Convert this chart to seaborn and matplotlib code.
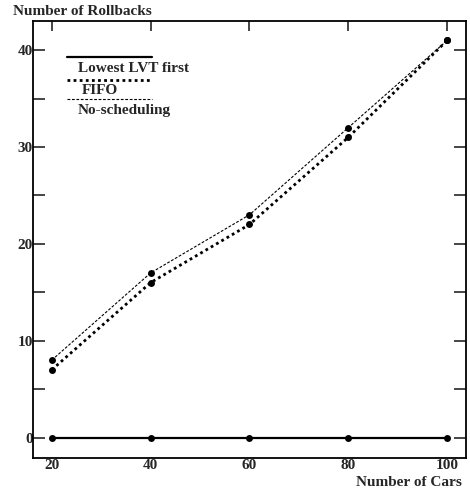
import matplotlib
matplotlib.use("Agg")
import matplotlib.pyplot as plt
import seaborn as sns
import pandas as pd

cars = [20, 40, 60, 80, 100]
lowest_lvt = [0, 0, 0, 0, 0]
fifo = [7, 16, 22, 31, 41]
no_sched = [8, 17, 23, 32, 41]
labels = ["Lowest LVT first", "FIFO", "No-scheduling"]

sns.set_style("white")
plt.rcParams['font.family'] = ['Liberation Serif', 'DejaVu Serif']
plt.rcParams['font.weight'] = 'bold'

df = pd.DataFrame({"cars": cars * 3,
                   "rollbacks": lowest_lvt + fifo + no_sched,
                   "series": [labels[0]] * 5 + [labels[1]] * 5 + [labels[2]] * 5})

fig = plt.figure(figsize=(4.7, 4.88), dpi=100)
ax = fig.add_axes([0.0702, 0.0615, 0.9213, 0.8955])

styles = {
    labels[0]: dict(lw=1.6, ls='-'),
    labels[1]: dict(lw=2.0, ls=(0, (1, 1.2))),
    labels[2]: dict(lw=0.8, ls=(0, (2.5, 1.5))),
}
for name in labels:
    sub = df[df["series"] == name]
    sns.lineplot(data=sub, x="cars", y="rollbacks", ax=ax, color='black',
                 marker='o', markersize=5, markeredgewidth=0, legend=False,
                 linewidth=styles[name]['lw'], linestyle=styles[name]['ls'])

ax.set_xlim(16.2, 103.8)
ax.set_ylim(-2.1, 43)
ax.set_xticks(cars)
ax.set_yticks([0, 10, 20, 30, 40])
ax.set_yticks([5, 15, 25, 35], minor=True)
ax.tick_params(axis='x', direction='in', length=7.2, width=1.2, top=True,
               labelsize=11, pad=1)
ax.tick_params(axis='y', which='both', direction='in', length=8.6, width=1.2,
               left=True, right=True, labelsize=11, pad=0)
for lab in ax.get_xticklabels() + ax.get_yticklabels():
    lab.set_fontweight('bold')
for s in ax.spines.values():
    s.set_linewidth(1.3)
    s.set_color('black')
ax.set_xlabel('')
ax.set_ylabel('')

fig.text(0.028, 0.977, "Number of Rollbacks", fontsize=11, fontweight='bold', va='center', ha='left')
fig.text(0.983, 0.012, "Number of Cars", fontsize=11, fontweight='bold', va='center', ha='right')

# legend drawn line-above-text like the original
leg_line_y = [0.9176, 0.865, 0.8215]
leg_text_y = [0.884, 0.832, 0.787]
leg_text_x = [0.104, 0.113, 0.104]
for name, ly, ty, tx in zip(labels, leg_line_y, leg_text_y, leg_text_x):
    ax.plot([0.0785, 0.275], [ly, ly], transform=ax.transAxes, color='black',
            lw=styles[name]['lw'], ls=styles[name]['ls'])
    ax.text(tx, ty, name, transform=ax.transAxes,
            fontsize=11, fontweight='bold', va='baseline', ha='left')

plt.savefig("out.png", dpi=100)
